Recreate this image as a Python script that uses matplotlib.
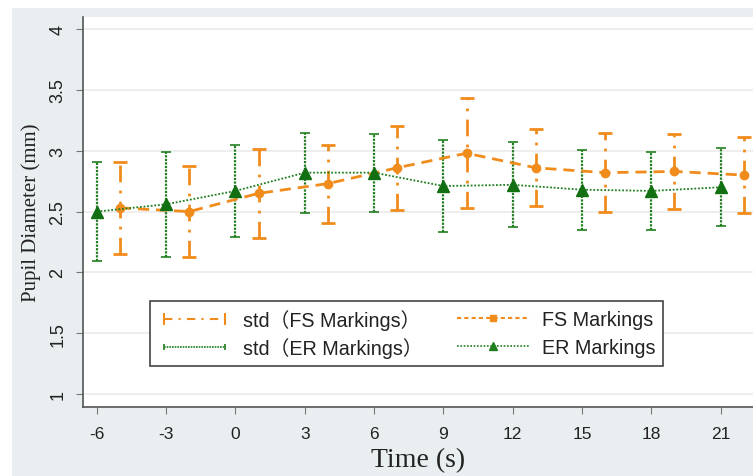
import matplotlib
matplotlib.use("Agg")
import matplotlib.pyplot as plt
from matplotlib.lines import Line2D
from matplotlib.legend_handler import HandlerLine2D
from matplotlib.patches import Rectangle

plt.rcParams["axes.unicode_minus"] = False

# data
er_time = [-6, -3, 0, 3, 6, 9, 12, 15, 18, 21]
er_mean = [2.50, 2.56, 2.67, 2.82, 2.82, 2.71, 2.72, 2.68, 2.67, 2.70]
er_std = [0.41, 0.43, 0.38, 0.33, 0.32, 0.38, 0.35, 0.33, 0.32, 0.32]

fs_time = [-5, -2, 1, 4, 7, 10, 13, 16, 19, 22]
fs_mean = [2.53, 2.50, 2.65, 2.73, 2.86, 2.98, 2.86, 2.82, 2.83, 2.80]
fs_std = [0.38, 0.375, 0.365, 0.32, 0.345, 0.45, 0.315, 0.325, 0.305, 0.315]

x_ticks = [-6, -3, 0, 3, 6, 9, 12, 15, 18, 21]
y_ticks = [1, 1.5, 2, 2.5, 3, 3.5, 4]
y_ticklabels = ["1", "1.5", "2", "2.5", "3", "3.5", "4"]
labels = ["std（FS Markings）", "std（ER Markings）", "FS Markings", "ER Markings"]

orange = "#f08c1c"
green = "#1f7f1f"
sans = ["Liberation Sans", "Noto Sans CJK SC", "DejaVu Sans"]
serif = ["Liberation Serif", "DejaVu Serif"]

fig = plt.figure(figsize=(7.53, 4.77), dpi=100)
fig.patch.set_facecolor("white")
# light grey-blue backdrop around the plot
bg = Rectangle((12 / 753, 0), 1, 1 - 9 / 477, transform=fig.transFigure,
               facecolor="#e9eff1", edgecolor="none", zorder=-10)
fig.add_artist(bg)

ax = fig.add_axes([83 / 753, 1 - 408 / 477, 1 - 83 / 753, (408 - 18) / 477])
ax.set_facecolor("white")

# error bars
eb_fs = ax.errorbar(fs_time, fs_mean, yerr=fs_std, fmt="none", ecolor=orange,
                    elinewidth=2, capsize=5, capthick=2, zorder=2)
eb_fs[2][0].set_linestyle((0, (6, 3, 1, 3)))
eb_er = ax.errorbar(er_time, er_mean, yerr=er_std, fmt="none", ecolor=green,
                    elinewidth=1.6, capsize=3.5, capthick=1.2, zorder=2)
eb_er[2][0].set_linestyle((0, (1, 0.6)))

# mean lines
ax.plot(fs_time, fs_mean, color=orange, linestyle=(0, (4, 2.5)), linewidth=2,
        marker="o", markersize=6, zorder=3)
ax.plot(er_time, er_mean, color=green, linestyle=(0, (1, 1)), linewidth=1.3,
        marker="^", markersize=8, markerfacecolor="#127012", markeredgecolor="#127012", zorder=4)

ax.set_xlim(-6.6, 22.4)
ax.set_ylim(0.893, 4.1)
ax.set_xticks(x_ticks)
ax.set_yticks(y_ticks)
ax.set_yticklabels(y_ticklabels, rotation=90, va="center")
ax.grid(axis="y", color="#ebebeb", linewidth=1.2)
ax.set_axisbelow(True)
for s in ["top", "right"]:
    ax.spines[s].set_visible(False)
for s in ["left", "bottom"]:
    ax.spines[s].set_color("#555555")
    ax.spines[s].set_linewidth(1.2)
ax.tick_params(axis="both", direction="out", length=5, color="#777777", labelcolor="#222222")
ax.tick_params(axis="x", pad=9)
ax.tick_params(axis="y", pad=7)
for lab in ax.get_xticklabels():
    lab.set_family(sans)
    lab.set_fontsize(12.5)
for lab in ax.get_yticklabels():
    lab.set_family(sans)
    lab.set_fontsize(13)

ax.set_xlabel("Time (s)", family=serif, fontsize=20, color="#222222", labelpad=4)
ax.set_ylabel("Pupil Diameter (mm)", family=serif, fontsize=15, color="#222222", labelpad=6)

# legend
h_std_fs = Line2D([], [], color=orange, linestyle=(0, (4, 3, 1, 3)), linewidth=1.5, marker="|",
                  markersize=8, markeredgewidth=1.5)
h_std_er = Line2D([], [], color=green, linestyle=(0, (1, 0.6)), linewidth=1.2, marker="|",
                  markersize=5, markeredgewidth=1.2)
h_fs = Line2D([], [], color=orange, linestyle=(0, (2, 1.5)), linewidth=1.5, marker="s", markersize=4)
h_er = Line2D([], [], color=green, linestyle=(0, (1, 1)), linewidth=1.2, marker="^", markersize=6)
leg = ax.legend([h_std_fs, h_std_er, h_fs, h_er], labels,
                ncol=2, loc="upper left", bbox_to_anchor=(67 / 670, (408 - 302) / 390),
                borderaxespad=0,
                prop={"family": sans, "size": 14.2}, frameon=True, fancybox=False,
                edgecolor="#444444", framealpha=1, columnspacing=1.75, handlelength=3.7,
                borderpad=0.4, labelspacing=0.38, handletextpad=0.6,
                handler_map={h_std_fs: HandlerLine2D(numpoints=2),
                             h_std_er: HandlerLine2D(numpoints=2),
                             h_fs: HandlerLine2D(numpoints=1),
                             h_er: HandlerLine2D(numpoints=1)})
leg.get_frame().set_linewidth(1.2)
for t in leg.get_texts():
    t.set_color("#222222")

# the full-width brackets make the left column rows taller; even out the right column
fig.canvas.draw()
tx = leg.get_texts()
def yc(t):
    bb = t.get_window_extent()
    return (bb.y0 + bb.y1) / 2
d_left = yc(tx[0]) - yc(tx[1])
d_right = yc(tx[2]) - yc(tx[3])
cols = leg._legend_handle_box.get_children()
cols[1].sep += (d_left - d_right) * 72 / fig.dpi
leg._legend_handle_box.align = "center"

fig.savefig("out.png", dpi=100)
